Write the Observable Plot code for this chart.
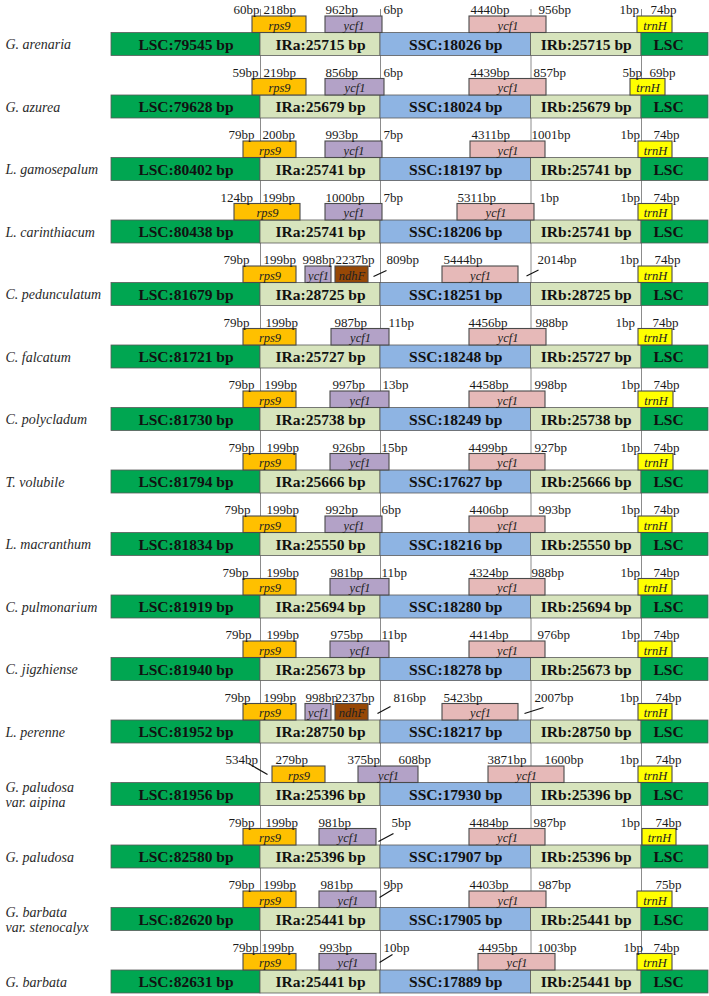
<!DOCTYPE html>
<html><head><meta charset="utf-8">
<script src="https://cdn.jsdelivr.net/npm/d3@7"></script>
<script src="https://cdn.jsdelivr.net/npm/@observablehq/plot@0.6"></script>
<style>
html,body{margin:0;padding:0;background:#fff;}
#chart svg{display:block;}
</style></head>
<body><div id="chart"></div>
<script>
// ---------- data ----------
const species = ["G. arenaria","G. azurea","L. gamosepalum","L. carinthiacum","C. pedunculatum","C. falcatum","C. polycladum","T. volubile","L. macranthum","C. pulmonarium","C. jigzhiense","L. perenne","G. paludosa\nvar. aipina","G. paludosa","G. barbata\nvar. stenocalyx","G. barbata"];
const lscLen = [79545,79628,80402,80438,81679,81721,81730,81794,81834,81919,81940,81952,81956,82580,82620,82631];
const irLen  = [25715,25679,25741,25741,28725,25727,25738,25666,25550,25694,25673,28750,25396,25396,25441,25441];
const sscLen = [18026,18024,18197,18206,18251,18248,18249,17627,18216,18280,18278,18217,17930,17907,17905,17889];

// schematic junction positions (LSC | IRa | SSC | IRb | LSC)
const junctions = [111,260,380,530.5,641,708];

// gene spans along the schematic, one per row
const rps9Span = [[252,306],[252,306],[243,296],[234,300],[243,296],[243,296],[243,296],[243,296],[243,296],[243,296],[243,296],[243,296],[272,325],[243,296],[243,296],[243,296]];
const ycf1IRSpan = [[325,382],[325,384],[325,382],[325,382],[305,331],[331,389],[330,389],[330,389],[325,382],[330,389],[330,389],[305,331],[358,418],[319,376],[319,376],[319,376]];
const ndhFRows = [4,11];
const ndhFSpan = [[335,368],[335,368]];
const ycf1SSCSpan = [[469,546],[469,546],[470,545],[457,534],[442,518],[469,546],[469,545],[469,545],[469,545],[469,545],[469,545],[442,518],[488,564],[469,545],[469,546],[478,555]];
const trnHSpan = [[637,672],[630,665],[638,672],[638,672],[638,672],[638,672],[638,673],[638,673],[638,672],[638,672],[638,672],[638,672],[638,672],[642,676],[637,672],[637,672]];

// bp labels per row: [text, start]
const bpLabels = [
 [["60bp",233],["218bp",263],["962bp",325],["6bp",383],["4440bp",470],["956bp",538],["1bp",619],["74bp",650]],
 [["59bp",232],["219bp",263],["856bp",325],["6bp",383],["4439bp",470],["857bp",533],["5bp",622],["69bp",649]],
 [["79bp",228],["200bp",262],["993bp",325],["7bp",383],["4311bp",471],["1001bp",531],["1bp",620],["74bp",653]],
 [["124bp",220],["199bp",262],["1000bp",325],["7bp",383],["5311bp",457],["1bp",539],["1bp",620],["74bp",653]],
 [["79bp",223],["199bp",263],["998bp",302],["2237bp",335],["809bp",386],["5444bp",443],["2014bp",537],["1bp",619],["74bp",654]],
 [["79bp",223],["199bp",265],["987bp",334],["11bp",388],["4456bp",468],["988bp",535],["1bp",615],["74bp",652]],
 [["79bp",228],["199bp",264],["997bp",332],["13bp",382],["4458bp",469],["998bp",534],["1bp",620],["74bp",653]],
 [["79bp",228],["199bp",266],["926bp",332],["15bp",381],["4499bp",468],["927bp",534],["1bp",620],["74bp",653]],
 [["79bp",224],["199bp",266],["992bp",325],["6bp",381],["4406bp",469],["993bp",538],["1bp",620],["74bp",653]],
 [["79bp",222],["199bp",266],["981bp",330],["11bp",381],["4324bp",469],["988bp",531],["1bp",620],["74bp",653]],
 [["79bp",225],["199bp",266],["975bp",330],["11bp",381],["4414bp",469],["976bp",537],["1bp",620],["74bp",653]],
 [["79bp",224],["199bp",263],["998bp",305],["2237bp",335],["816bp",393],["5423bp",443],["2007bp",534],["1bp",619],["74bp",655]],
 [["534bp",225],["279bp",275],["375bp",347],["608bp",398],["3871bp",487],["1600bp",544],["1bp",619],["74bp",655]],
 [["79bp",228],["199bp",265],["981bp",318],["5bp",391],["4484bp",469],["987bp",533],["1bp",620],["74bp",655]],
 [["79bp",228],["199bp",263],["981bp",320],["9bp",383],["4403bp",469],["987bp",538],["75bp",655]],
 [["79bp",232],["199bp",261],["993bp",319],["10bp",383],["4495bp",478],["1003bp",537],["1bp",623],["74bp",653]]
];

// leader strokes: row, x1, dy1, x2, dy2 (dy relative to bar top)
const leaderRows = [4,4,11,11,12,13,14,15];
const leaderSeg = [[373,-6.5,386,-12.5],[526,-7,538,-13],[377,-7,390,-14],[524,-7,543,-13],[248,-19.5,267,-8.5],[378,-4,393,-12],[379,-10.5,392,-18.5],[379,-8,392,-16]];

// ---------- layout ----------
const W = 709, H = 996;
const ROW0 = 32.5, STEP = 62.5, BAR = 23, GENE = 16.5;
const barTop = i => ROW0 + STEP * i;
const serif = "'Liberation Serif','Times New Roman',Times,serif";

const segColors = ["#00a651","#d7e4bd","#8eb4e3","#d7e4bd","#00a651"];
const segments = [];
species.forEach((s, i) => {
  const names = [
    `LSC:${lscLen[i]} bp`, `IRa:${irLen[i]} bp`, `SSC:${sscLen[i]} bp`, `IRb:${irLen[i]} bp`, "LSC"
  ];
  for (let k = 0; k < 5; k++) {
    segments.push({row: i, x1: junctions[k], x2: junctions[k+1], label: names[k], fill: segColors[k],
      cx: k === 4 ? 668 : (junctions[k] + junctions[k+1]) / 2});
  }
});

const genes = [];
const addGene = (rows, spans, name, fill) => spans.forEach((sp, j) =>
  genes.push({row: rows ? rows[j] : j, x1: sp[0], x2: sp[1], name, fill}));
addGene(null, rps9Span, "rps9", "#ffc000");
addGene(null, ycf1IRSpan, "ycf1", "#b3a2c7");
addGene(ndhFRows, ndhFSpan, "ndhF", "#974806");
addGene(null, ycf1SSCSpan, "ycf1", "#e6b9b8");
addGene(null, trnHSpan, "trnH", "#ffff00");

const labels = bpLabels.flatMap((arr, i) => arr.map(([t, x]) => ({row: i, text: t, x})));
const leaders = leaderRows.map((r, j) => ({row: r, x1: leaderSeg[j][0], y1: barTop(r) + leaderSeg[j][1], x2: leaderSeg[j][2], y2: barTop(r) + leaderSeg[j][3]}));
const lastBottom = barTop(species.length - 1) + BAR;

const chart = Plot.plot({
  width: W, height: H, margin: 0,
  x: {domain: [0, W], range: [0, W], axis: null},
  y: {domain: [0, H], range: [0, H], axis: null},
  style: {fontFamily: serif, background: "#fff"},
  marks: [
    Plot.ruleX(junctions.slice(1, 5), {y1: 9, y2: lastBottom, stroke: "#8c8c8c", strokeWidth: 1}),
    Plot.rect(segments, {x1: "x1", x2: "x2", y1: d => barTop(d.row), y2: d => barTop(d.row) + BAR, fill: "fill", stroke: "#5a5a5a", strokeWidth: 0.8}),
    Plot.text(segments, {x: "cx", y: d => barTop(d.row) + BAR / 2 + 0.5, text: "label", fontSize: 15.5, fontWeight: "bold", fill: "#111", fontFamily: serif}),
    Plot.rect(genes, {x1: "x1", x2: "x2", y1: d => barTop(d.row) - GENE, y2: d => barTop(d.row), fill: "fill", stroke: "#4a4a4a", strokeWidth: 1.1}),
    Plot.text(genes, {x: d => (d.x1 + d.x2) / 2, y: d => barTop(d.row) - GENE / 2 + 1, text: "name", fontSize: 12.5, fontStyle: "italic", fill: "#222", fontFamily: serif}),
    Plot.text(labels, {x: "x", y: d => barTop(d.row) - 23, text: "text", textAnchor: "start", fontSize: 13, fill: "#1a1a1a", fontFamily: serif}),
    Plot.link(leaders, {x1: "x1", y1: "y1", x2: "x2", y2: "y2", stroke: "#111", strokeWidth: 1.2}),
    Plot.text(species.map((s, i) => ({s, i})), {x: 5, y: d => barTop(d.i) + BAR / 2, text: "s", textAnchor: "start", fontSize: 14, fontStyle: "italic", fill: "#2a2a2a", lineHeight: 1.05, fontFamily: serif})
  ]
});
document.getElementById("chart").appendChild(chart);
</script>
</body></html>
